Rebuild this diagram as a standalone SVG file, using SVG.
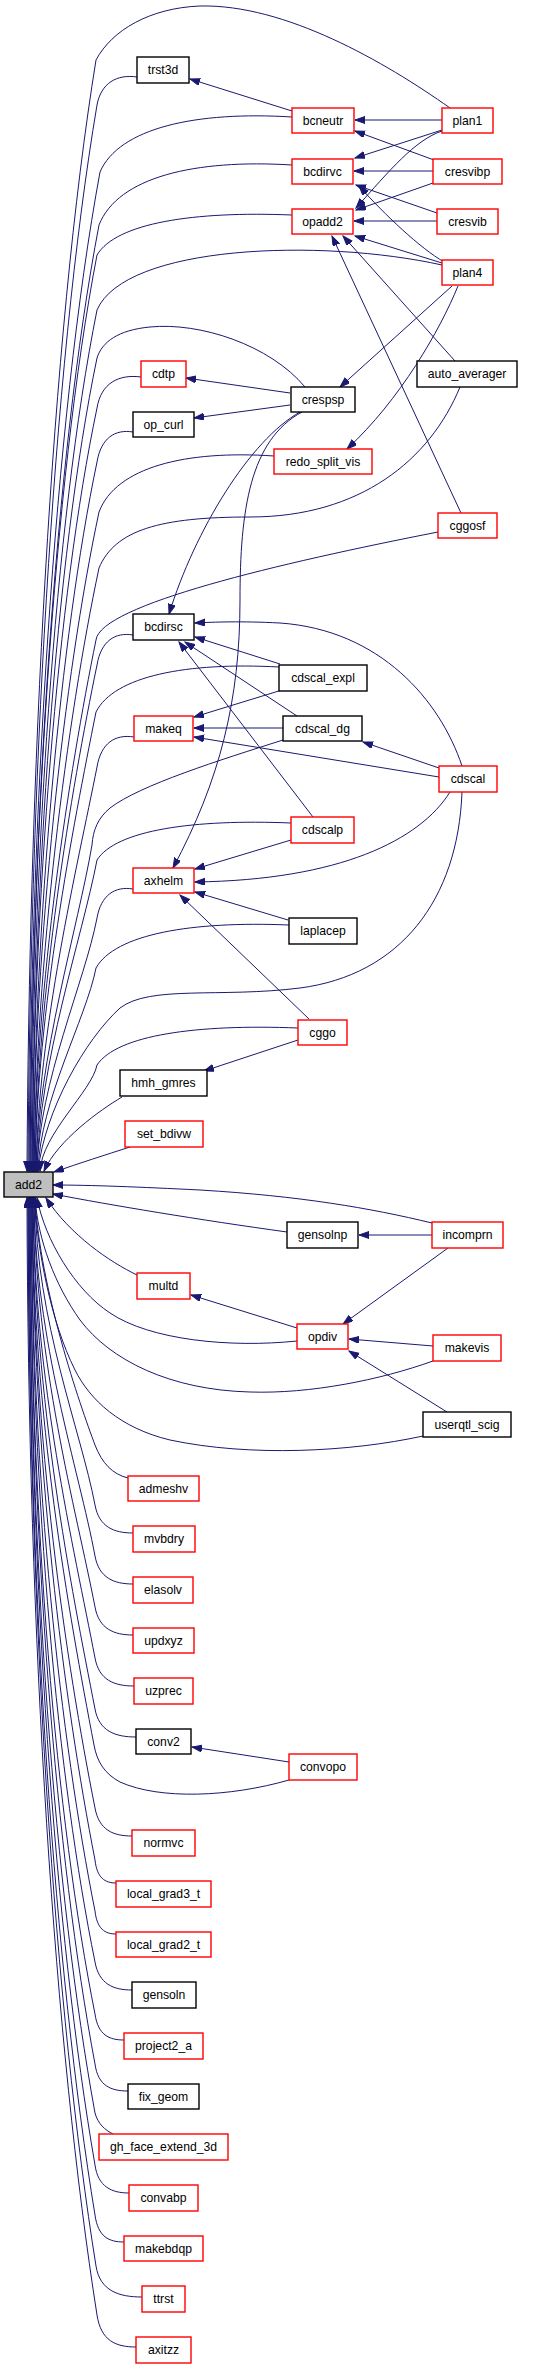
<svg xmlns="http://www.w3.org/2000/svg" width="547" height="2369" viewBox="0 0 547 2369">
<style>
rect{stroke-width:1.4}
.r{fill:#fff;stroke:#ff0000}
.k{fill:#fff;stroke:#000}
.g{fill:#bfbfbf;stroke:#000}
text{font-family:"Liberation Sans",Arial,sans-serif;font-size:12.2px;text-anchor:middle;fill:#000}
#edges path{fill:none;stroke:#191970;stroke-width:1;marker-end:url(#a)}
</style>
<defs>
<marker id="a" markerWidth="11" markerHeight="8" refX="10" refY="3.5" orient="auto" markerUnits="userSpaceOnUse"><path d="M0,0 L10,3.5 L0,7 Z" fill="#191970" stroke="#191970" stroke-width="1"/></marker>
</defs>
<rect width="547" height="2369" fill="#fff"/>
<g id="edges">
<path d="M450,108 C385,62 285,4 200,6 C150,8 112,30 96,60 C51,338 29,782 27,1171"/>
<path d="M137,77 C117,74 101,83 97,105 C52,372 30,798 28,1171"/>
<path d="M292,117 C196,111 119,128 100,172 C54,422 31,821 29,1171"/>
<path d="M292,165 C195,159 118,177 99,225 C54,461 32,840 30,1171"/>
<path d="M292,215 C194,211 116,223 97,255 C53,484 32,850 30,1171"/>
<path d="M442,265 C320,238 125,245 97,310 C54,525 33,870 31,1171"/>
<path d="M305,387 C270,345 200,322 150,327 C118,330 102,342 97,358 C55,561 34,886 32,1171"/>
<path d="M141,377 C119,374 101,383 97,408 C57,599 34,904 32,1171"/>
<path d="M133,432 C115,429 101,438 97,462 C60,639 35,923 33,1171"/>
<path d="M274,456 C186,450 116,467 99,512 C64,677 35,940 33,1171"/>
<path d="M460,387 C430,460 360,517 250,517 C160,517 115,530 99,568 C67,719 36,960 34,1171"/>
<path d="M438,532 C280,563 100,605 96,640 C69,773 36,985 34,1171"/>
<path d="M133,635 C115,632 101,641 97,665 C71,791 37,994 35,1171"/>
<path d="M279,667 C187,662 114,676 96,712 C73,827 37,1010 35,1171"/>
<path d="M134,737 C115,734 101,743 97,767 C77,868 38,1030 36,1171"/>
<path d="M283,740 C220,760 140,785 110,808 C98,818 93,830 92,845 C78,927 38,1057 36,1171"/>
<path d="M291,823 C194,819 116,830 97,860 C82,938 39,1062 37,1171"/>
<path d="M133,889 C115,886 101,895 97,918 C85,981 39,1082 37,1171"/>
<path d="M289,925 C192,921 115,934 96,968 C86,1019 40,1100 38,1171"/>
<path d="M462,792 C458,900 400,975 300,988 C220,998 150,985 120,1008 C85,1040 45,1110 38,1171"/>
<path d="M298,1028 C197,1024 117,1035 97,1065 C92,1091 42,1134 40,1171"/>
<path d="M122,1097 C100,1110 58,1140 44,1171"/>
<path d="M130,1147 C105,1155 80,1163 54,1172"/>
<path d="M432,1223 C370,1208 300,1196 200,1190 C140,1187 90,1185 53,1185"/>
<path d="M287,1232 C200,1220 110,1205 53,1194"/>
<path d="M137,1275 C110,1262 70,1235 46,1198"/>
<path d="M297,1341 C230,1348 150,1340 110,1313 C75,1290 45,1240 37,1198"/>
<path d="M433,1361 C380,1380 310,1394 250,1392 C170,1390 110,1360 80,1320 C55,1285 38,1240 35,1198"/>
<path d="M423,1436 C350,1452 250,1457 170,1440 C120,1428 90,1400 75,1370 C50,1320 38,1250 34,1198"/>
<path d="M128,1478 C112,1474 102,1463 95,1445 C80,1405 40,1290 35,1198"/>
<path d="M133,1533 C114,1533 99,1527 95,1505 C81,1431 36,1321 35,1198"/>
<path d="M133,1584 C114,1584 99,1578 95,1556 C79,1470 35,1341 34,1198"/>
<path d="M133,1635 C114,1635 99,1629 95,1607 C76,1509 35,1362 34,1198"/>
<path d="M134,1686 C114,1686 99,1680 95,1658 C74,1548 34,1382 33,1198"/>
<path d="M136,1737 C115,1737 99,1731 95,1709 C71,1586 34,1402 33,1198"/>
<path d="M289,1780 C230,1797 160,1800 120,1782 C105,1774 97,1762 94,1745 C69,1614 33,1417 32,1198"/>
<path d="M132,1836 C113,1836 99,1830 95,1808 C66,1662 33,1442 32,1198"/>
<path d="M116,1883 C105,1883 97,1878 95,1860 C64,1701 33,1463 32,1198"/>
<path d="M116,1934 C105,1934 97,1929 95,1911 C61,1740 32,1483 31,1198"/>
<path d="M132,1990 C113,1990 99,1984 95,1962 C58,1779 32,1504 31,1198"/>
<path d="M124,2040 C109,2040 98,2035 95,2014 C56,1818 31,1524 30,1198"/>
<path d="M128,2091 C111,2091 98,2086 95,2064 C56,1856 31,1544 30,1198"/>
<path d="M113,2134 C105,2130 98,2124 95,2113 C55,1893 30,1564 29,1198"/>
<path d="M129,2193 C112,2193 98,2187 95,2165 C55,1933 30,1585 29,1198"/>
<path d="M124,2242 C109,2242 98,2237 95,2215 C55,1971 29,1605 28,1198"/>
<path d="M142,2297 C119,2297 100,2291 96,2266 C55,2010 29,1625 28,1198"/>
<path d="M136,2347 C116,2347 101,2341 97,2315 C55,2047 28,1645 27,1198"/>
<path d="M292,111 L190,79"/>
<path d="M442,120 L355,120"/>
<path d="M434,160 L355,131"/>
<path d="M442,130 L355,158"/>
<path d="M433,171 L354,171"/>
<path d="M437,213 L356,185"/>
<path d="M444,262 C420,248 385,215 359,186"/>
<path d="M442,131 C415,140 390,170 356,208"/>
<path d="M433,183 L356,210"/>
<path d="M437,221 L354,221"/>
<path d="M442,263 L355,236"/>
<path d="M455,361 L343,236"/>
<path d="M461,513 L332,236"/>
<path d="M452,286 L340,387"/>
<path d="M458,286 C440,330 400,400 347,449"/>
<path d="M290,393 L186,378"/>
<path d="M290,405 L194,418"/>
<path d="M300,412 C250,440 195,530 169,614"/>
<path d="M302,412 C250,440 240,510 240,600 C240,700 220,780 173,868"/>
<path d="M280,664 L195,637"/>
<path d="M297,716 L185,642"/>
<path d="M313,817 L179,642"/>
<path d="M462,766 C440,700 380,630 280,623 C240,621 215,622 195,623"/>
<path d="M282,690 L194,717"/>
<path d="M283,728 L194,728"/>
<path d="M439,777 L194,737"/>
<path d="M439,768 L363,742"/>
<path d="M291,840 L195,869"/>
<path d="M450,792 C420,840 340,880 195,882"/>
<path d="M288,920 L195,892"/>
<path d="M309,1019 L180,895"/>
<path d="M298,1040 L204,1071"/>
<path d="M432,1235 L359,1235"/>
<path d="M448,1248 L343,1324"/>
<path d="M297,1328 L191,1295"/>
<path d="M433,1346 L349,1339"/>
<path d="M447,1412 L349,1351"/>
<path d="M289,1762 L192,1747"/>
</g>
<g id="n_trst3d"><rect class="k" x="137" y="57" width="52" height="26"/><text x="163" y="74">trst3d</text></g>
<g id="n_bcneutr"><rect class="r" x="292" y="108" width="62" height="25"/><text x="323" y="125">bcneutr</text></g>
<g id="n_plan1"><rect class="r" x="442" y="108" width="51" height="25"/><text x="467.5" y="125">plan1</text></g>
<g id="n_bcdirvc"><rect class="r" x="292" y="159" width="61" height="25"/><text x="322.5" y="176">bcdirvc</text></g>
<g id="n_cresvibp"><rect class="r" x="433" y="159" width="69" height="25"/><text x="467.5" y="176">cresvibp</text></g>
<g id="n_opadd2"><rect class="r" x="292" y="209" width="61" height="25"/><text x="322.5" y="226">opadd2</text></g>
<g id="n_cresvib"><rect class="r" x="437" y="209" width="61" height="25"/><text x="467.5" y="226">cresvib</text></g>
<g id="n_plan4"><rect class="r" x="442" y="260" width="51" height="25"/><text x="467.5" y="277">plan4</text></g>
<g id="n_cdtp"><rect class="r" x="141" y="361" width="45" height="26"/><text x="163.5" y="378">cdtp</text></g>
<g id="n_auto_averager"><rect class="k" x="417" y="361" width="100" height="26"/><text x="467" y="378">auto_averager</text></g>
<g id="n_crespsp"><rect class="k" x="291" y="387" width="64" height="25"/><text x="323" y="404">crespsp</text></g>
<g id="n_op_curl"><rect class="k" x="133" y="412" width="61" height="25"/><text x="163.5" y="429">op_curl</text></g>
<g id="n_redo_split_vis"><rect class="r" x="274" y="449" width="98" height="25"/><text x="323" y="466">redo_split_vis</text></g>
<g id="n_cggosf"><rect class="r" x="438" y="513" width="59" height="25"/><text x="467.5" y="530">cggosf</text></g>
<g id="n_bcdirsc"><rect class="k" x="133" y="614" width="61" height="26"/><text x="163.5" y="631">bcdirsc</text></g>
<g id="n_cdscal_expl"><rect class="k" x="279" y="665" width="88" height="26"/><text x="323" y="682">cdscal_expl</text></g>
<g id="n_makeq"><rect class="r" x="134" y="716" width="59" height="25"/><text x="163.5" y="733">makeq</text></g>
<g id="n_cdscal_dg"><rect class="k" x="283" y="716" width="79" height="25"/><text x="322.5" y="733">cdscal_dg</text></g>
<g id="n_cdscal"><rect class="r" x="439" y="766" width="58" height="26"/><text x="468" y="783">cdscal</text></g>
<g id="n_cdscalp"><rect class="r" x="291" y="817" width="63" height="26"/><text x="322.5" y="834">cdscalp</text></g>
<g id="n_axhelm"><rect class="r" x="133" y="868" width="61" height="25"/><text x="163.5" y="885">axhelm</text></g>
<g id="n_laplacep"><rect class="k" x="289" y="918" width="68" height="26"/><text x="323" y="935">laplacep</text></g>
<g id="n_cggo"><rect class="r" x="298" y="1020" width="49" height="25"/><text x="322.5" y="1037">cggo</text></g>
<g id="n_hmh_gmres"><rect class="k" x="120" y="1070" width="87" height="26"/><text x="163.5" y="1087">hmh_gmres</text></g>
<g id="n_set_bdivw"><rect class="r" x="125" y="1121" width="78" height="26"/><text x="164" y="1138">set_bdivw</text></g>
<g id="n_add2"><rect class="g" x="4" y="1172" width="49" height="25"/><text x="28.5" y="1189">add2</text></g>
<g id="n_gensolnp"><rect class="k" x="287" y="1222" width="71" height="26"/><text x="322.5" y="1239">gensolnp</text></g>
<g id="n_incomprn"><rect class="r" x="432" y="1222" width="71" height="26"/><text x="467.5" y="1239">incomprn</text></g>
<g id="n_multd"><rect class="r" x="137" y="1273" width="53" height="26"/><text x="163.5" y="1290">multd</text></g>
<g id="n_opdiv"><rect class="r" x="297" y="1324" width="51" height="25"/><text x="322.5" y="1341">opdiv</text></g>
<g id="n_makevis"><rect class="r" x="433" y="1335" width="68" height="26"/><text x="467" y="1352">makevis</text></g>
<g id="n_userqtl_scig"><rect class="k" x="423" y="1412" width="88" height="25"/><text x="467" y="1429">userqtl_scig</text></g>
<g id="n_admeshv"><rect class="r" x="128" y="1476" width="71" height="25"/><text x="163.5" y="1493">admeshv</text></g>
<g id="n_mvbdry"><rect class="r" x="133" y="1526" width="62" height="26"/><text x="164" y="1543">mvbdry</text></g>
<g id="n_elasolv"><rect class="r" x="133" y="1577" width="60" height="26"/><text x="163" y="1594">elasolv</text></g>
<g id="n_updxyz"><rect class="r" x="133" y="1628" width="61" height="25"/><text x="163.5" y="1645">updxyz</text></g>
<g id="n_uzprec"><rect class="r" x="134" y="1678" width="59" height="26"/><text x="163.5" y="1695">uzprec</text></g>
<g id="n_conv2"><rect class="k" x="136" y="1729" width="55" height="25"/><text x="163.5" y="1746">conv2</text></g>
<g id="n_convopo"><rect class="r" x="289" y="1754" width="68" height="26"/><text x="323" y="1771">convopo</text></g>
<g id="n_normvc"><rect class="r" x="132" y="1830" width="63" height="26"/><text x="163.5" y="1847">normvc</text></g>
<g id="n_local_grad3_t"><rect class="r" x="116" y="1881" width="95" height="26"/><text x="163.5" y="1898">local_grad3_t</text></g>
<g id="n_local_grad2_t"><rect class="r" x="116" y="1932" width="95" height="25"/><text x="163.5" y="1949">local_grad2_t</text></g>
<g id="n_gensoln"><rect class="k" x="132" y="1982" width="64" height="26"/><text x="164" y="1999">gensoln</text></g>
<g id="n_project2_a"><rect class="r" x="124" y="2033" width="79" height="26"/><text x="163.5" y="2050">project2_a</text></g>
<g id="n_fix_geom"><rect class="k" x="128" y="2084" width="71" height="25"/><text x="163.5" y="2101">fix_geom</text></g>
<g id="n_gh_face_extend_3d"><rect class="r" x="99" y="2134" width="129" height="26"/><text x="163.5" y="2151">gh_face_extend_3d</text></g>
<g id="n_convabp"><rect class="r" x="129" y="2185" width="69" height="26"/><text x="163.5" y="2202">convabp</text></g>
<g id="n_makebdqp"><rect class="r" x="124" y="2236" width="79" height="25"/><text x="163.5" y="2253">makebdqp</text></g>
<g id="n_ttrst"><rect class="r" x="142" y="2286" width="43" height="26"/><text x="163.5" y="2303">ttrst</text></g>
<g id="n_axitzz"><rect class="r" x="136" y="2337" width="55" height="26"/><text x="163.5" y="2354">axitzz</text></g>
</svg>
